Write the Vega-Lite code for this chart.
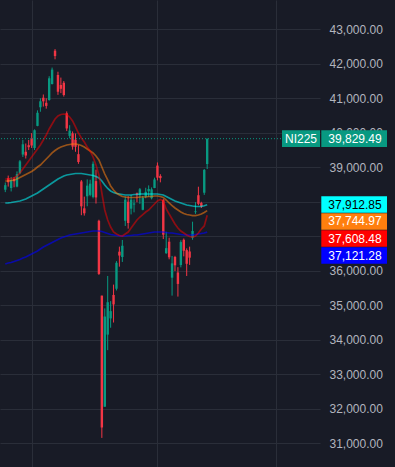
{
 "$schema": "https://vega.github.io/schema/vega-lite/v6.json",
 "width": 320,
 "height": 467,
 "autosize": {"type": "none"},
 "padding": {"left": 0, "top": 0, "right": 75, "bottom": 0},
 "background": "#181B26",
 "config": {
  "view": {"stroke": null},
  "font": "Liberation Sans",
  "axis": {"domain": false, "ticks": false, "grid": true, "gridColor": "#2A2E39", "gridWidth": 1, "labelColor": "#B2B5BE", "labelFont": "Liberation Sans", "labelFontSize": 12, "labelOverlap": false},
  "axisY": {"labelPadding": 9, "labelAlign": "left", "labelBaseline": "middle", "labelOverlap": false, "orient": "right"},
  "axisX": {"labels": false}
 },
 "data": {"values": [
  {"i":0,"date":"2024-06-18","open":38350,"high":38560,"low":38280,"close":38482,"maRed":38661,"maOrange":38603,"maCyan":37965,"maBlue":36197},
  {"i":1,"date":"2024-06-19","open":38680,"high":38760,"low":38440,"close":38570,"maRed":38661,"maOrange":38603,"maCyan":37971,"maBlue":36226},
  {"i":2,"date":"2024-06-20","open":38400,"high":38720,"low":38300,"close":38633,"maRed":38675,"maOrange":38617,"maCyan":37979,"maBlue":36240},
  {"i":3,"date":"2024-06-21","open":38660,"high":38720,"low":38420,"close":38596,"maRed":38690,"maOrange":38632,"maCyan":37994,"maBlue":36269},
  {"i":4,"date":"2024-06-24","open":38440,"high":38880,"low":38420,"close":38804,"maRed":38748,"maOrange":38661,"maCyan":38008,"maBlue":36298},
  {"i":5,"date":"2024-06-25","open":38830,"high":39212,"low":38800,"close":39173,"maRed":38835,"maOrange":38704,"maCyan":38023,"maBlue":36327},
  {"i":6,"date":"2024-06-26","open":39370,"high":39790,"low":39300,"close":39667,"maRed":38951,"maOrange":38748,"maCyan":38052,"maBlue":36371},
  {"i":7,"date":"2024-06-27","open":39450,"high":39690,"low":39254,"close":39341,"maRed":39067,"maOrange":38791,"maCyan":38081,"maBlue":36400},
  {"i":8,"date":"2024-06-28","open":39640,"high":39790,"low":39500,"close":39583,"maRed":39183,"maOrange":38835,"maCyan":38124,"maBlue":36443},
  {"i":9,"date":"2024-07-01","open":39840,"high":39990,"low":39560,"close":39631,"maRed":39299,"maOrange":38878,"maCyan":38168,"maBlue":36487},
  {"i":10,"date":"2024-07-02","open":39560,"high":40100,"low":39500,"close":40074,"maRed":39415,"maOrange":38936,"maCyan":38211,"maBlue":36530},
  {"i":11,"date":"2024-07-03","open":40200,"high":40650,"low":40190,"close":40580,"maRed":39531,"maOrange":39008,"maCyan":38255,"maBlue":36574},
  {"i":12,"date":"2024-07-04","open":40740,"high":41000,"low":40610,"close":40913,"maRed":39647,"maOrange":39067,"maCyan":38313,"maBlue":36632},
  {"i":13,"date":"2024-07-05","open":41017,"high":41110,"low":40760,"close":40912,"maRed":39791,"maOrange":39154,"maCyan":38371,"maBlue":36690},
  {"i":14,"date":"2024-07-08","open":40870,"high":41000,"low":40700,"close":40780,"maRed":39936,"maOrange":39240,"maCyan":38429,"maBlue":36733},
  {"i":15,"date":"2024-07-09","open":40950,"high":41640,"low":40930,"close":41580,"maRed":40110,"maOrange":39327,"maCyan":38487,"maBlue":36777},
  {"i":16,"date":"2024-07-10","open":41414,"high":41890,"low":41400,"close":41831,"maRed":40255,"maOrange":39415,"maCyan":38545,"maBlue":36820},
  {"i":17,"date":"2024-07-11","open":42380,"high":42426,"low":42130,"close":42224,"maRed":40400,"maOrange":39487,"maCyan":38603,"maBlue":36864},
  {"i":18,"date":"2024-07-12","open":41675,"high":41770,"low":41100,"close":41190,"maRed":40487,"maOrange":39545,"maCyan":38661,"maBlue":36907},
  {"i":19,"date":"2024-07-16","open":41385,"high":41600,"low":41150,"close":41275,"maRed":40530,"maOrange":39588,"maCyan":38704,"maBlue":36951},
  {"i":20,"date":"2024-07-17","open":41450,"high":41500,"low":41050,"close":41097,"maRed":40545,"maOrange":39617,"maCyan":38748,"maBlue":36979},
  {"i":21,"date":"2024-07-18","open":40565,"high":40620,"low":40050,"close":40126,"maRed":40530,"maOrange":39647,"maCyan":38777,"maBlue":37008},
  {"i":22,"date":"2024-07-19","open":39910,"high":40220,"low":39840,"close":40063,"maRed":40458,"maOrange":39661,"maCyan":38791,"maBlue":37037},
  {"i":23,"date":"2024-07-22","open":39985,"high":40040,"low":39510,"close":39599,"maRed":40342,"maOrange":39675,"maCyan":38805,"maBlue":37052},
  {"i":24,"date":"2024-07-23","open":39800,"high":39980,"low":39450,"close":39594,"maRed":40168,"maOrange":39675,"maCyan":38820,"maBlue":37066},
  {"i":25,"date":"2024-07-24","open":39380,"high":39650,"low":39100,"close":39154,"maRed":39994,"maOrange":39661,"maCyan":38820,"maBlue":37081},
  {"i":26,"date":"2024-07-25","open":38590,"high":38630,"low":37611,"close":37869,"maRed":39849,"maOrange":39632,"maCyan":38820,"maBlue":37095},
  {"i":27,"date":"2024-07-26","open":37810,"high":38150,"low":37600,"close":37667,"maRed":39733,"maOrange":39588,"maCyan":38805,"maBlue":37110},
  {"i":28,"date":"2024-07-29","open":38160,"high":38650,"low":37870,"close":38468,"maRed":39588,"maOrange":39531,"maCyan":38791,"maBlue":37124},
  {"i":29,"date":"2024-07-30","open":38200,"high":38640,"low":38160,"close":38525,"maRed":39472,"maOrange":39472,"maCyan":38777,"maBlue":37139},
  {"i":30,"date":"2024-07-31","open":38140,"high":39170,"low":38100,"close":39102,"maRed":39299,"maOrange":39415,"maCyan":38762,"maBlue":37153},
  {"i":31,"date":"2024-08-01","open":38600,"high":38930,"low":37950,"close":38126,"maRed":39067,"maOrange":39327,"maCyan":38733,"maBlue":37153},
  {"i":32,"date":"2024-08-02","open":37450,"high":37480,"low":35880,"close":35909,"maRed":38777,"maOrange":39211,"maCyan":38690,"maBlue":37153},
  {"i":33,"date":"2024-08-05","open":35280,"high":35280,"low":31156,"close":31458,"maRed":38255,"maOrange":39008,"maCyan":38603,"maBlue":37139},
  {"i":34,"date":"2024-08-06","open":32060,"high":34910,"low":32060,"close":34675,"maRed":37762,"maOrange":38805,"maCyan":38487,"maBlue":37110},
  {"i":35,"date":"2024-08-07","open":34150,"high":35850,"low":33700,"close":35089,"maRed":37472,"maOrange":38632,"maCyan":38385,"maBlue":37081},
  {"i":36,"date":"2024-08-08","open":34620,"high":35120,"low":34350,"close":34831,"maRed":37269,"maOrange":38458,"maCyan":38313,"maBlue":37052},
  {"i":37,"date":"2024-08-09","open":35300,"high":35600,"low":34500,"close":35025,"maRed":37124,"maOrange":38342,"maCyan":38269,"maBlue":37037},
  {"i":38,"date":"2024-08-13","open":35480,"high":36280,"low":35430,"close":36232,"maRed":37066,"maOrange":38255,"maCyan":38240,"maBlue":37023},
  {"i":39,"date":"2024-08-14","open":36554,"high":36700,"low":36120,"close":36442,"maRed":37023,"maOrange":38197,"maCyan":38226,"maBlue":37008},
  {"i":40,"date":"2024-08-15","open":36400,"high":36893,"low":36256,"close":36726,"maRed":37008,"maOrange":38153,"maCyan":38211,"maBlue":37008},
  {"i":41,"date":"2024-08-16","open":37450,"high":38150,"low":37300,"close":38062,"maRed":37066,"maOrange":38139,"maCyan":38197,"maBlue":37008},
  {"i":42,"date":"2024-08-19","open":38000,"high":38164,"low":37222,"close":37388,"maRed":37124,"maOrange":38124,"maCyan":38197,"maBlue":37023},
  {"i":43,"date":"2024-08-20","open":37800,"high":38200,"low":37634,"close":38062,"maRed":37240,"maOrange":38124,"maCyan":38197,"maBlue":37023},
  {"i":44,"date":"2024-08-21","open":37920,"high":38069,"low":37694,"close":37951,"maRed":37356,"maOrange":38124,"maCyan":38211,"maBlue":37037},
  {"i":45,"date":"2024-08-22","open":38246,"high":38266,"low":37988,"close":38211,"maRed":37472,"maOrange":38124,"maCyan":38211,"maBlue":37037},
  {"i":46,"date":"2024-08-23","open":38188,"high":38400,"low":37941,"close":38364,"maRed":37559,"maOrange":38139,"maCyan":38226,"maBlue":37052},
  {"i":47,"date":"2024-08-26","open":37768,"high":38170,"low":37754,"close":38110,"maRed":37631,"maOrange":38139,"maCyan":38226,"maBlue":37066},
  {"i":48,"date":"2024-08-27","open":38148,"high":38407,"low":38102,"close":38288,"maRed":37704,"maOrange":38139,"maCyan":38226,"maBlue":37081},
  {"i":49,"date":"2024-08-28","open":38303,"high":38475,"low":38146,"close":38371,"maRed":37762,"maOrange":38153,"maCyan":38226,"maBlue":37095},
  {"i":50,"date":"2024-08-29","open":38104,"high":38417,"low":38070,"close":38362,"maRed":37849,"maOrange":38153,"maCyan":38226,"maBlue":37110},
  {"i":51,"date":"2024-08-30","open":38400,"high":38700,"low":38395,"close":38647,"maRed":37936,"maOrange":38168,"maCyan":38226,"maBlue":37124},
  {"i":52,"date":"2024-09-02","open":39050,"high":39140,"low":38620,"close":38700,"maRed":38023,"maOrange":38168,"maCyan":38226,"maBlue":37124},
  {"i":53,"date":"2024-09-03","open":38750,"high":38800,"low":38564,"close":38686,"maRed":38066,"maOrange":38153,"maCyan":38211,"maBlue":37124},
  {"i":54,"date":"2024-09-04","open":38050,"high":38080,"low":36920,"close":37047,"maRed":38023,"maOrange":38124,"maCyan":38197,"maBlue":37124},
  {"i":55,"date":"2024-09-05","open":36510,"high":37130,"low":36490,"close":36657,"maRed":37791,"maOrange":38052,"maCyan":38153,"maBlue":37110},
  {"i":56,"date":"2024-09-06","open":36843,"high":36958,"low":36333,"close":36391,"maRed":37646,"maOrange":37965,"maCyan":38110,"maBlue":37095},
  {"i":57,"date":"2024-09-09","open":35800,"high":36431,"low":35280,"close":36215,"maRed":37501,"maOrange":37892,"maCyan":38066,"maBlue":37095},
  {"i":58,"date":"2024-09-10","open":36400,"high":36433,"low":35992,"close":36159,"maRed":37356,"maOrange":37820,"maCyan":38023,"maBlue":37081},
  {"i":59,"date":"2024-09-11","open":35950,"high":36105,"low":35252,"close":35619,"maRed":37240,"maOrange":37762,"maCyan":37994,"maBlue":37066},
  {"i":60,"date":"2024-09-12","open":36168,"high":36884,"low":36100,"close":36833,"maRed":37153,"maOrange":37704,"maCyan":37965,"maBlue":37052},
  {"i":61,"date":"2024-09-13","open":36900,"high":36937,"low":36418,"close":36581,"maRed":37095,"maOrange":37661,"maCyan":37936,"maBlue":37037},
  {"i":62,"date":"2024-09-17","open":36600,"high":36650,"low":35850,"close":36203,"maRed":37037,"maOrange":37631,"maCyan":37907,"maBlue":37037},
  {"i":63,"date":"2024-09-18","open":36560,"high":36700,"low":36170,"close":36380,"maRed":36994,"maOrange":37617,"maCyan":37892,"maBlue":37037},
  {"i":64,"date":"2024-09-19","open":36960,"high":37423,"low":36900,"close":37155,"maRed":36979,"maOrange":37602,"maCyan":37878,"maBlue":37037},
  {"i":65,"date":"2024-09-20","open":37700,"high":37990,"low":37650,"close":37723,"maRed":37008,"maOrange":37602,"maCyan":37869,"maBlue":37052},
  {"i":66,"date":"2024-09-24","open":38190,"high":38437,"low":37900,"close":37940,"maRed":37095,"maOrange":37617,"maCyan":37863,"maBlue":37066},
  {"i":67,"date":"2024-09-25","open":37970,"high":38000,"low":37820,"close":37870,"maRed":37211,"maOrange":37646,"maCyan":37869,"maBlue":37081},
  {"i":68,"date":"2024-09-26","open":38263,"high":38950,"low":38200,"close":38925,"maRed":37300,"maOrange":37690,"maCyan":37884,"maBlue":37095},
  {"i":69,"date":"2024-09-27","open":39095,"high":39829.49,"low":38950,"close":39829.49,"maRed":37608.48,"maOrange":37744.97,"maCyan":37912.85,"maBlue":37121.28}
 ]},
 "layer": [
  {
   "mark": {"type": "rule", "strokeWidth": 1},
   "encoding": {
    "x": {"field": "i", "type": "quantitative", "scale": {"domain": [-0.1, 105.85], "nice": false, "zero": false}, "axis": {"values": [9, 52, 92.6], "labels": false}, "title": null},
    "y": {"field": "low", "type": "quantitative", "scale": {"domain": [30313, 43849], "nice": false, "zero": false}, "axis": {"orient": "right", "values": [31000, 32000, 33000, 34000, 35000, 36000, 37000, 38000, 39000, 40000, 41000, 42000, 43000], "format": ",.2f", "labelOverlap": false}, "title": null},
    "y2": {"field": "high"},
    "color": {"condition": {"test": "datum.close >= datum.open", "value": "#089981"}, "value": "#F23645"}
   }
  },
  {
   "mark": {"type": "bar", "width": 2.4},
   "encoding": {
    "x": {"field": "i", "type": "quantitative", "axis": {"values": [9, 52, 92.6], "labels": false}, "title": null},
    "y": {"field": "open", "type": "quantitative", "axis": {"orient": "right", "values": [31000, 32000, 33000, 34000, 35000, 36000, 37000, 38000, 39000, 40000, 41000, 42000, 43000], "format": ",.2f", "labelOverlap": false}, "title": null},
    "y2": {"field": "close"},
    "color": {"condition": {"test": "datum.close >= datum.open", "value": "#089981"}, "value": "#F23645"}
   }
  },
  {
   "mark": {"type": "line", "color": "#0000FF", "opacity": 0.6, "strokeWidth": 1.7},
   "encoding": {"x": {"field": "i", "type": "quantitative", "axis": {"values": [9, 52, 92.6], "labels": false}, "title": null}, "y": {"field": "maBlue", "type": "quantitative", "axis": {"orient": "right", "values": [31000, 32000, 33000, 34000, 35000, 36000, 37000, 38000, 39000, 40000, 41000, 42000, 43000], "format": ",.2f", "labelOverlap": false}, "title": null}}
  },
  {
   "mark": {"type": "line", "color": "#00FFFF", "opacity": 0.55, "strokeWidth": 1.7},
   "encoding": {"x": {"field": "i", "type": "quantitative", "axis": {"values": [9, 52, 92.6], "labels": false}, "title": null}, "y": {"field": "maCyan", "type": "quantitative", "axis": {"orient": "right", "values": [31000, 32000, 33000, 34000, 35000, 36000, 37000, 38000, 39000, 40000, 41000, 42000, 43000], "format": ",.2f", "labelOverlap": false}, "title": null}}
  },
  {
   "mark": {"type": "line", "color": "#FF7F0E", "opacity": 0.55, "strokeWidth": 1.7},
   "encoding": {"x": {"field": "i", "type": "quantitative", "axis": {"values": [9, 52, 92.6], "labels": false}, "title": null}, "y": {"field": "maOrange", "type": "quantitative", "axis": {"orient": "right", "values": [31000, 32000, 33000, 34000, 35000, 36000, 37000, 38000, 39000, 40000, 41000, 42000, 43000], "format": ",.2f", "labelOverlap": false}, "title": null}}
  },
  {
   "mark": {"type": "line", "color": "#FF0000", "opacity": 0.5, "strokeWidth": 1.7},
   "encoding": {"x": {"field": "i", "type": "quantitative", "axis": {"values": [9, 52, 92.6], "labels": false}, "title": null}, "y": {"field": "maRed", "type": "quantitative", "axis": {"orient": "right", "values": [31000, 32000, 33000, 34000, 35000, 36000, 37000, 38000, 39000, 40000, 41000, 42000, 43000], "format": ",.2f", "labelOverlap": false}, "title": null}}
  },
  {
   "transform": [{"filter": "datum.i == 69"}],
   "mark": {"type": "rule", "color": "#089981", "strokeDash": [1, 2], "strokeWidth": 1},
   "encoding": {"y": {"field": "close", "type": "quantitative", "axis": {"orient": "right", "values": [31000, 32000, 33000, 34000, 35000, 36000, 37000, 38000, 39000, 40000, 41000, 42000, 43000], "format": ",.2f", "labelOverlap": false}, "title": null}}
  },
  {
   "transform": [{"filter": "datum.i == 69"}],
   "mark": {"type": "rect", "x": 282, "x2": 320, "yOffset": -8.4, "y2Offset": 8.2, "color": "#089981"},
   "encoding": {"y": {"field": "close", "type": "quantitative", "axis": {"orient": "right", "values": [31000, 32000, 33000, 34000, 35000, 36000, 37000, 38000, 39000, 40000, 41000, 42000, 43000], "format": ",.2f", "labelOverlap": false}, "title": null}, "y2": {"field": "close"}}
  },
  {
   "transform": [{"filter": "datum.i == 69"}],
   "mark": {"type": "text", "x": 301, "align": "center", "baseline": "middle", "color": "#FFFFFF", "fontSize": 12, "font": "Liberation Sans"},
   "encoding": {"y": {"field": "close", "type": "quantitative", "axis": {"orient": "right", "values": [31000, 32000, 33000, 34000, 35000, 36000, 37000, 38000, 39000, 40000, 41000, 42000, 43000], "format": ",.2f", "labelOverlap": false}, "title": null}, "text": {"value": "NI225"}}
  },
  {
   "transform": [{"filter": "datum.i == 69"}],
   "mark": {"type": "rect", "x": 321.3, "x2": 387, "yOffset": -8.4, "y2Offset": 8.2, "color": "#089981"},
   "encoding": {"y": {"field": "close", "type": "quantitative", "axis": {"orient": "right", "values": [31000, 32000, 33000, 34000, 35000, 36000, 37000, 38000, 39000, 40000, 41000, 42000, 43000], "format": ",.2f", "labelOverlap": false}, "title": null}, "y2": {"field": "close"}}
  },
  {
   "transform": [{"filter": "datum.i == 69"}],
   "mark": {"type": "text", "x": 355, "align": "center", "baseline": "middle", "color": "#FFFFFF", "fontSize": 12, "font": "Liberation Sans"},
   "encoding": {"y": {"field": "close", "type": "quantitative", "axis": {"orient": "right", "values": [31000, 32000, 33000, 34000, 35000, 36000, 37000, 38000, 39000, 40000, 41000, 42000, 43000], "format": ",.2f", "labelOverlap": false}, "title": null}, "text": {"field": "close", "type": "quantitative", "format": ",.2f"}}
  },
  {
   "transform": [{"filter": "datum.i == 69"}],
   "mark": {"type": "rect", "x": 321.3, "x2": 387, "yOffset": -8.6, "y2Offset": 8.0, "color": "#00FFFF"},
   "encoding": {"y": {"field": "maCyan", "type": "quantitative", "axis": {"orient": "right", "values": [31000, 32000, 33000, 34000, 35000, 36000, 37000, 38000, 39000, 40000, 41000, 42000, 43000], "format": ",.2f", "labelOverlap": false}, "title": null}, "y2": {"field": "maCyan"}}
  },
  {
   "transform": [{"filter": "datum.i == 69"}],
   "mark": {"type": "text", "x": 355, "dy": -0.3, "align": "center", "baseline": "middle", "color": "#000000", "fontSize": 12, "font": "Liberation Sans"},
   "encoding": {"y": {"field": "maCyan", "type": "quantitative", "axis": {"orient": "right", "values": [31000, 32000, 33000, 34000, 35000, 36000, 37000, 38000, 39000, 40000, 41000, 42000, 43000], "format": ",.2f", "labelOverlap": false}, "title": null}, "text": {"field": "maCyan", "type": "quantitative", "format": ",.2f"}}
  },
  {
   "transform": [{"filter": "datum.i == 69"}],
   "mark": {"type": "rect", "x": 321.3, "x2": 387, "yOffset": 2.6, "y2Offset": 19.2, "color": "#FF7F0E"},
   "encoding": {"y": {"field": "maOrange", "type": "quantitative", "axis": {"orient": "right", "values": [31000, 32000, 33000, 34000, 35000, 36000, 37000, 38000, 39000, 40000, 41000, 42000, 43000], "format": ",.2f", "labelOverlap": false}, "title": null}, "y2": {"field": "maOrange"}}
  },
  {
   "transform": [{"filter": "datum.i == 69"}],
   "mark": {"type": "text", "x": 355, "dy": 10.9, "align": "center", "baseline": "middle", "color": "#FFFFFF", "fontSize": 12, "font": "Liberation Sans"},
   "encoding": {"y": {"field": "maOrange", "type": "quantitative", "axis": {"orient": "right", "values": [31000, 32000, 33000, 34000, 35000, 36000, 37000, 38000, 39000, 40000, 41000, 42000, 43000], "format": ",.2f", "labelOverlap": false}, "title": null}, "text": {"field": "maOrange", "type": "quantitative", "format": ",.2f"}}
  },
  {
   "transform": [{"filter": "datum.i == 69"}],
   "mark": {"type": "rect", "x": 321.3, "x2": 387, "yOffset": 14.9, "y2Offset": 31.5, "color": "#FF0000"},
   "encoding": {"y": {"field": "maRed", "type": "quantitative", "axis": {"orient": "right", "values": [31000, 32000, 33000, 34000, 35000, 36000, 37000, 38000, 39000, 40000, 41000, 42000, 43000], "format": ",.2f", "labelOverlap": false}, "title": null}, "y2": {"field": "maRed"}}
  },
  {
   "transform": [{"filter": "datum.i == 69"}],
   "mark": {"type": "text", "x": 355, "dy": 23.2, "align": "center", "baseline": "middle", "color": "#FFFFFF", "fontSize": 12, "font": "Liberation Sans"},
   "encoding": {"y": {"field": "maRed", "type": "quantitative", "axis": {"orient": "right", "values": [31000, 32000, 33000, 34000, 35000, 36000, 37000, 38000, 39000, 40000, 41000, 42000, 43000], "format": ",.2f", "labelOverlap": false}, "title": null}, "text": {"field": "maRed", "type": "quantitative", "format": ",.2f"}}
  },
  {
   "transform": [{"filter": "datum.i == 69"}],
   "mark": {"type": "rect", "x": 321.3, "x2": 387, "yOffset": 15.1, "y2Offset": 31.7, "color": "#0000FF"},
   "encoding": {"y": {"field": "maBlue", "type": "quantitative", "axis": {"orient": "right", "values": [31000, 32000, 33000, 34000, 35000, 36000, 37000, 38000, 39000, 40000, 41000, 42000, 43000], "format": ",.2f", "labelOverlap": false}, "title": null}, "y2": {"field": "maBlue"}}
  },
  {
   "transform": [{"filter": "datum.i == 69"}],
   "mark": {"type": "text", "x": 355, "dy": 23.4, "align": "center", "baseline": "middle", "color": "#FFFFFF", "fontSize": 12, "font": "Liberation Sans"},
   "encoding": {"y": {"field": "maBlue", "type": "quantitative", "axis": {"orient": "right", "values": [31000, 32000, 33000, 34000, 35000, 36000, 37000, 38000, 39000, 40000, 41000, 42000, 43000], "format": ",.2f", "labelOverlap": false}, "title": null}, "text": {"field": "maBlue", "type": "quantitative", "format": ",.2f"}}
  }
 ]
}
